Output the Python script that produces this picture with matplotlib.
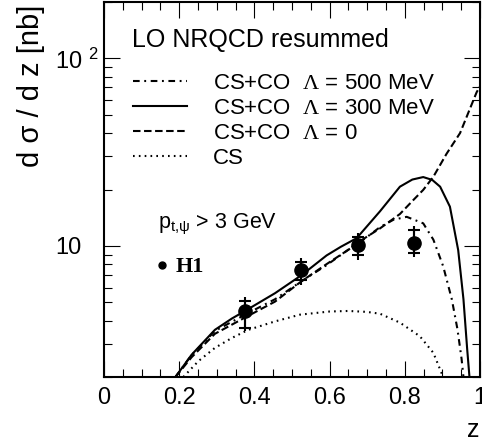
import matplotlib
matplotlib.use("Agg")
import matplotlib.pyplot as plt
from matplotlib.lines import Line2D
from matplotlib.ticker import NullFormatter, FixedLocator, LogLocator

plt.rcParams['font.family'] = ['Liberation Sans', 'DejaVu Sans']
plt.rcParams['mathtext.fontset'] = 'custom'
plt.rcParams['mathtext.rm'] = 'Liberation Sans'
plt.rcParams['mathtext.it'] = 'Liberation Sans:italic'
plt.rcParams['mathtext.bf'] = 'Liberation Sans:bold'
plt.rcParams['mathtext.sf'] = 'Liberation Serif'

# H1 data
h1_z = [0.375, 0.525, 0.675, 0.825]
h1_val = [4.48, 7.45, 10.1, 10.4]
stat_lo = [3.67, 6.59, 8.96, 9.18]
stat_hi = [5.06, 8.25, 11.2, 12.1]
tot_lo = [3.50, 6.20, 8.40, 8.74]
tot_hi = [5.37, 8.60, 11.7, 12.8]

# CS+CO, Lambda = 500 MeV
z_500 = [0.19, 0.233, 0.295, 0.375, 0.455, 0.526, 0.592, 0.645, 0.69, 0.734,
         0.77, 0.805, 0.849, 0.876, 0.902, 0.925, 0.94, 0.951, 0.956]
v_500 = [2.0, 2.62, 3.52, 4.3, 5.2, 6.5, 7.9, 9.4, 10.8, 12.6,
         13.8, 14.3, 13.2, 10.8, 7.8, 5.2, 3.6, 2.5, 2.0]

# CS+CO, Lambda = 300 MeV
z_300 = [0.19, 0.233, 0.295, 0.34, 0.375, 0.455, 0.526, 0.592, 0.63, 0.672,
         0.734, 0.787, 0.82, 0.849, 0.873, 0.894, 0.92, 0.942, 0.956, 0.966, 0.972]
v_300 = [2.0, 2.63, 3.57, 4.1, 4.5, 5.6, 7.0, 8.9, 9.9, 11.0,
         15.3, 20.7, 22.6, 23.3, 22.5, 20.7, 16.2, 9.5, 5.2, 2.8, 2.0]

# CS+CO, Lambda = 0
z_0 = [0.19, 0.233, 0.295, 0.375, 0.455, 0.526, 0.592, 0.645, 0.69, 0.734,
       0.787, 0.823, 0.849, 0.876, 0.911, 0.947, 0.991, 1.0]
v_0 = [2.0, 2.55, 3.4, 4.15, 5.05, 6.5, 8.0, 9.4, 10.9, 12.4,
       14.8, 17.6, 19.9, 23.4, 31.0, 40.0, 66.0, 71.0]

# CS
z_cs = [0.211, 0.251, 0.295, 0.34, 0.384, 0.455, 0.521, 0.6, 0.65, 0.699,
        0.734, 0.787, 0.84, 0.876, 0.902]
v_cs = [2.0, 2.43, 2.86, 3.23, 3.57, 3.96, 4.3, 4.47, 4.5, 4.45,
        4.35, 3.9, 3.3, 2.69, 2.0]

x_ticks = [0, 0.2, 0.4, 0.6, 0.8, 1.0]
x_ticklabels = ['0', '0.2', '0.4', '0.6', '0.8', '1']
y_ticks = [10, 100]
y_ticklabels = ['10', r'$10^{\ \,2}$']

fig = plt.figure(figsize=(4.82, 4.41), dpi=100)
ax = fig.add_axes([104 / 482, 64 / 441, 376 / 482, 375 / 441])

lw = 1.5
l500, = ax.plot(z_500, v_500, color='k', lw=lw, dashes=(3.2, 2.2, 0.9, 2.2),
                label=r'CS+CO  $\mathsf{\Lambda}$ = 500 MeV')
l300, = ax.plot(z_300, v_300, color='k', lw=lw,
                label=r'CS+CO  $\mathsf{\Lambda}$ = 300 MeV')
l0, = ax.plot(z_0, v_0, color='k', lw=lw, dashes=(3.6, 1.7),
              label=r'CS+CO  $\mathsf{\Lambda}$ = 0')
lcs, = ax.plot(z_cs, v_cs, color='k', lw=lw, dashes=(0.8, 2.0), label='CS')

# total errors (no caps) and statistical errors (with caps)
tot_err = [[v - lo for v, lo in zip(h1_val, tot_lo)],
           [hi - v for v, hi in zip(h1_val, tot_hi)]]
stat_err = [[v - lo for v, lo in zip(h1_val, stat_lo)],
            [hi - v for v, hi in zip(h1_val, stat_hi)]]
ax.errorbar(h1_z, h1_val, yerr=tot_err, fmt='none', ecolor='k', elinewidth=1.5)
ax.errorbar(h1_z, h1_val, yerr=stat_err, fmt='o', color='k', ms=9.5,
            elinewidth=1.5, capsize=4.6, capthick=1.5)

ax.set_xlim(0, 1)
ax.set_yscale('log')
ax.set_ylim(2, 200)

ax.xaxis.set_major_locator(FixedLocator(x_ticks))
ax.xaxis.set_minor_locator(FixedLocator([i * 0.05 for i in range(21)]))
ax.set_xticklabels(x_ticklabels)
ax.yaxis.set_major_locator(FixedLocator(y_ticks))
ax.yaxis.set_minor_locator(LogLocator(base=10, subs=range(2, 10)))
ax.yaxis.set_minor_formatter(NullFormatter())
ax.set_yticklabels(y_ticklabels)

ax.tick_params(which='both', direction='in', top=True, right=True, width=0.8)
ax.tick_params(which='major', length=11.5)
ax.tick_params(which='minor', length=5.8)
ax.tick_params(axis='x', labelsize=17, pad=7)
ax.tick_params(axis='y', labelsize=17, pad=35)
for lab in ax.get_yticklabels():
    lab.set_horizontalalignment('left')

for sp in ax.spines.values():
    sp.set_linewidth(1.5)

ax.set_xlabel('z', fontsize=18, loc='right')
ax.xaxis.set_label_coords(1.0, -0.11)
ax.set_ylabel('d σ / d z [nb]', fontsize=21, loc='top')
ax.yaxis.set_label_coords(-0.158, 0.992)

ax.text(0.0745, 0.899, 'LO NRQCD resummed', transform=ax.transAxes,
        fontsize=18, ha='left', va='center')

leg = ax.legend(handles=[l500, l300, l0, lcs], loc='upper left',
                bbox_to_anchor=(0.077, 0.81), frameon=False, fontsize=16,
                handlelength=2.45, handletextpad=1.15, labelspacing=0.17,
                borderpad=0, borderaxespad=0)
ax.add_artist(leg)

ax.text(0.1436, 0.397, r'p$_{\mathrm{t{,}\psi}}$ > 3 GeV', transform=ax.transAxes,
        fontsize=15.5, ha='left', va='baseline')

h1_handle = Line2D([], [], marker='o', ls='none', color='k', ms=5)
ax.legend(handles=[h1_handle], labels=['H1'], loc='center left',
          bbox_to_anchor=(0.1335, 0.293), frameon=False,
          prop={'family': 'Liberation Serif', 'weight': 'bold', 'size': 16},
          handlelength=0.7, handletextpad=0.25, borderpad=0, borderaxespad=0)

fig.savefig('out.png', dpi=100)
